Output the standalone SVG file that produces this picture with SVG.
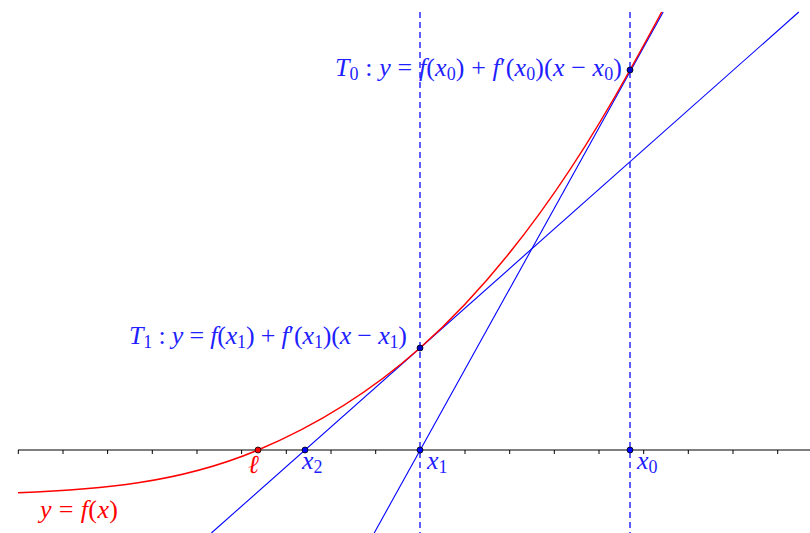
<svg xmlns="http://www.w3.org/2000/svg" width="810" height="533" viewBox="0 0 810 533">
<style>
text{font-family:'Liberation Serif','Times New Roman','DejaVu Serif',serif;font-size:26px}
.i{font-style:italic}
.s{font-size:18px;font-style:normal}
.b{fill:#1f1fff}
.r{fill:#ff0000}
.tan{stroke:#0000ff;stroke-width:1.1;fill:none}
.dash{stroke:#2a2aff;stroke-width:1.5;stroke-dasharray:6,4;fill:none}
.pt{stroke:#000;stroke-width:0.8}
.tick{stroke:#000;stroke-width:1}
</style>
<rect width="810" height="533" fill="#fff"/>
<g id="axis">
<line x1="18" y1="450" x2="810" y2="450" stroke="#000" stroke-width="1"/>
<path class="tick" d="M18.3 450v4M63 450v4M107.6 450v4M152.3 450v4M197 450v4M241.6 450v4M286.3 450v4M331 450v4M375.7 450v4M420.3 450v4M465 450v4M509.7 450v4M554.3 450v4M599 450v4M643.7 450v4M688.3 450v4M733 450v4M777.7 450v4"/>
</g>
<g id="connectors">
<line class="dash" x1="420" y1="12" x2="420" y2="533"/>
<line class="dash" x1="630" y1="12" x2="630" y2="533"/>
<line id="T1-line" class="tan" x1="211.4" y1="533" x2="798.8" y2="12"/>
<line id="T0-line" class="tan" x1="374.2" y1="533" x2="663.2" y2="12"/>
</g>
<g id="curve">
<path d="M18 492.7C98 489.5 178 483.6 258 450C312 427.3 366 395.9 420 348C490 285.9 560 196.7 630 70C640.6 50.9 651.1 31.8 661.7 12" fill="none" stroke="#ff0000" stroke-width="1.5"/>
</g>
<g id="points">
<circle id="p-l" class="pt" cx="258" cy="450" r="3" fill="#ff0000"/>
<circle id="p-x2" class="pt" cx="305" cy="450" r="3" fill="#0000ff"/>
<circle id="p-x1" class="pt" cx="420" cy="450" r="3" fill="#0000ff"/>
<circle id="p-x0" class="pt" cx="630" cy="450" r="3" fill="#0000ff"/>
<circle id="p-f1" class="pt" cx="420" cy="348" r="3" fill="#0000cc"/>
<circle id="p-f0" class="pt" cx="630" cy="70" r="3" fill="#0000cc"/>
</g>
<g id="label-T0">
<text class="b" x="335" y="76" textLength="287" lengthAdjust="spacing"><tspan class="i">T</tspan><tspan class="s" dy="4">0</tspan><tspan dy="-4"> : </tspan><tspan class="i">y</tspan> = <tspan class="i">f</tspan>(<tspan class="i">x</tspan><tspan class="s" dy="4">0</tspan><tspan dy="-4">) + </tspan><tspan class="i">f</tspan>′(<tspan class="i">x</tspan><tspan class="s" dy="4">0</tspan><tspan dy="-4">)(</tspan><tspan class="i">x</tspan> − <tspan class="i">x</tspan><tspan class="s" dy="4">0</tspan><tspan dy="-4">)</tspan></text>
</g>
<g id="label-T1">
<text class="b" x="129" y="344" textLength="278" lengthAdjust="spacing"><tspan class="i">T</tspan><tspan class="s" dy="4">1</tspan><tspan dy="-4"> : </tspan><tspan class="i">y</tspan> = <tspan class="i">f</tspan>(<tspan class="i">x</tspan><tspan class="s" dy="4">1</tspan><tspan dy="-4">) + </tspan><tspan class="i">f</tspan>′(<tspan class="i">x</tspan><tspan class="s" dy="4">1</tspan><tspan dy="-4">)(</tspan><tspan class="i">x</tspan> − <tspan class="i">x</tspan><tspan class="s" dy="4">1</tspan><tspan dy="-4">)</tspan></text>
</g>
<g id="label-l"><text class="r i" x="248" y="473">ℓ</text></g>
<g id="label-x2"><text class="b" x="302" y="469"><tspan class="i">x</tspan><tspan class="s" dy="4">2</tspan></text></g>
<g id="label-x1"><text class="b" x="427" y="469"><tspan class="i">x</tspan><tspan class="s" dy="4">1</tspan></text></g>
<g id="label-x0"><text class="b" x="637" y="469"><tspan class="i">x</tspan><tspan class="s" dy="4">0</tspan></text></g>
<g id="label-f"><text class="r" x="40" y="518" textLength="78" lengthAdjust="spacing"><tspan class="i">y</tspan> = <tspan class="i">f</tspan>(<tspan class="i">x</tspan>)</text></g>
</svg>
